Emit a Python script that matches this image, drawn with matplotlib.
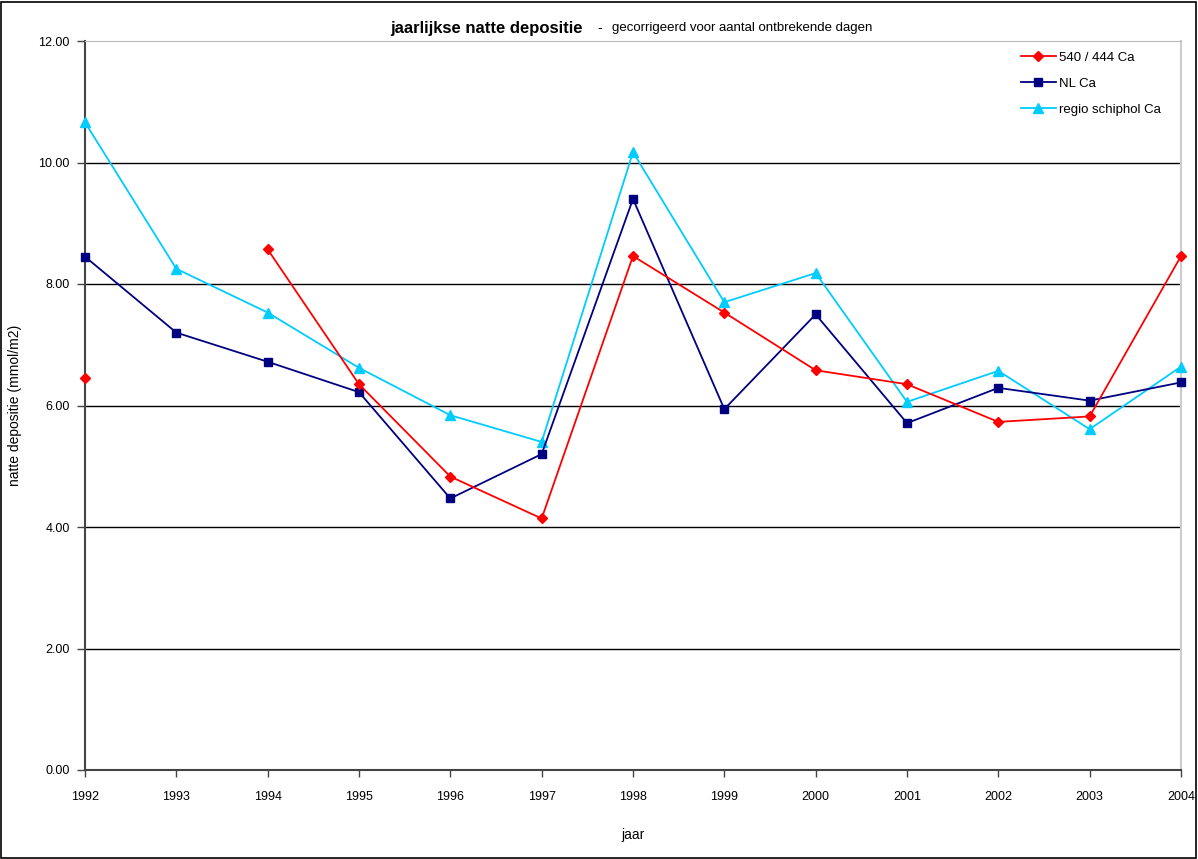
import numpy as np
import matplotlib.pyplot as plt
from matplotlib.patches import Rectangle

jaren = list(range(1992, 2005))
# 540 / 444 Ca (1993 ontbreekt)
ca_540 = [6.45, np.nan, 8.57, 6.35, 4.83, 4.14, 8.46, 7.53, 6.58, 6.35, 5.73, 5.82, 8.46]
nl_ca = [8.45, 7.20, 6.72, 6.22, 4.47, 5.20, 9.40, 5.94, 7.50, 5.71, 6.29, 6.08, 6.38]
schiphol_ca = [10.66, 8.25, 7.53, 6.62, 5.84, 5.40, 10.17, 7.70, 8.18, 6.06, 6.57, 5.61, 6.64]
y_ticks = [0, 2, 4, 6, 8, 10, 12]

plt.rcParams['font.family'] = ['Liberation Sans', 'DejaVu Sans']

fig = plt.figure(figsize=(11.98, 8.59), dpi=100)
ax = fig.add_axes([85/1198, 1 - 770/859, (1181-85)/1198, (770-41)/859])

ax.plot(jaren, ca_540, color='#ff0000', marker='D', markersize=5, lw=1.3,
        label='540 / 444 Ca', clip_on=False, zorder=5)
ax.plot(jaren, nl_ca, color='#000080', marker='s', markersize=6, lw=1.3,
        label='NL Ca', clip_on=False, zorder=4)
ax.plot(jaren, schiphol_ca, color='#00ccff', marker='^', markersize=7, lw=1.3,
        label='regio schiphol Ca', clip_on=False, zorder=3)

ax.set_xlim(1992, 2004)
ax.set_ylim(0, 12)
ax.set_xticks(jaren)
ax.set_xticklabels([str(j) for j in jaren], fontsize=9)
ax.set_yticks(y_ticks)
ax.set_yticklabels(['%.2f' % v for v in y_ticks], fontsize=9)
for v in y_ticks[1:-1]:
    ax.axhline(v, color='black', lw=1, zorder=0)

ax.spines['left'].set_color('#444444')
ax.spines['bottom'].set_color('#444444')
ax.spines['left'].set_linewidth(1.5)
ax.spines['bottom'].set_linewidth(1.5)
ax.spines['top'].set_color('#bbbbbb')
ax.spines['right'].set_color('#cccccc')
ax.spines['right'].set_linewidth(1.5)
ax.tick_params(axis='y', direction='out', length=6, width=1, color='#444444', pad=5)
ax.tick_params(axis='x', direction='out', length=5, width=1, color='#444444', pad=10)

ax.set_xlabel('jaar', fontsize=10)
ax.set_ylabel('natte depositie (mmol/m2)', fontsize=10)
ax.xaxis.set_label_coords(0.5, -(828 - 770) / 729, transform=ax.transAxes)
ax.yaxis.set_label_coords((22 - 85) / 1096, 0.5, transform=ax.transAxes)

leg = ax.legend(loc='upper left', bbox_to_anchor=((1009 - 85) / 1096, 1 + 1/729),
                fontsize=9.5, frameon=False, handlelength=2.65, handletextpad=0.25,
                borderpad=0.4, labelspacing=1.02)

fig.text(390/1198, 1 - 28/859, 'jaarlijkse natte depositie', fontsize=12, fontweight='bold',
         ha='left', va='center')
fig.text(597/1198, 1 - 28/859, '-', fontsize=10, ha='left', va='center')
fig.text(612/1198, 1 - 28/859, 'gecorrigeerd voor aantal ontbrekende dagen', fontsize=9.5,
         ha='left', va='center')

fig.patches.append(Rectangle((0.001, 0.001), 0.997, 0.997, transform=fig.transFigure,
                             fill=False, edgecolor='black', lw=1.2))

fig.savefig('out.png', dpi=100)
